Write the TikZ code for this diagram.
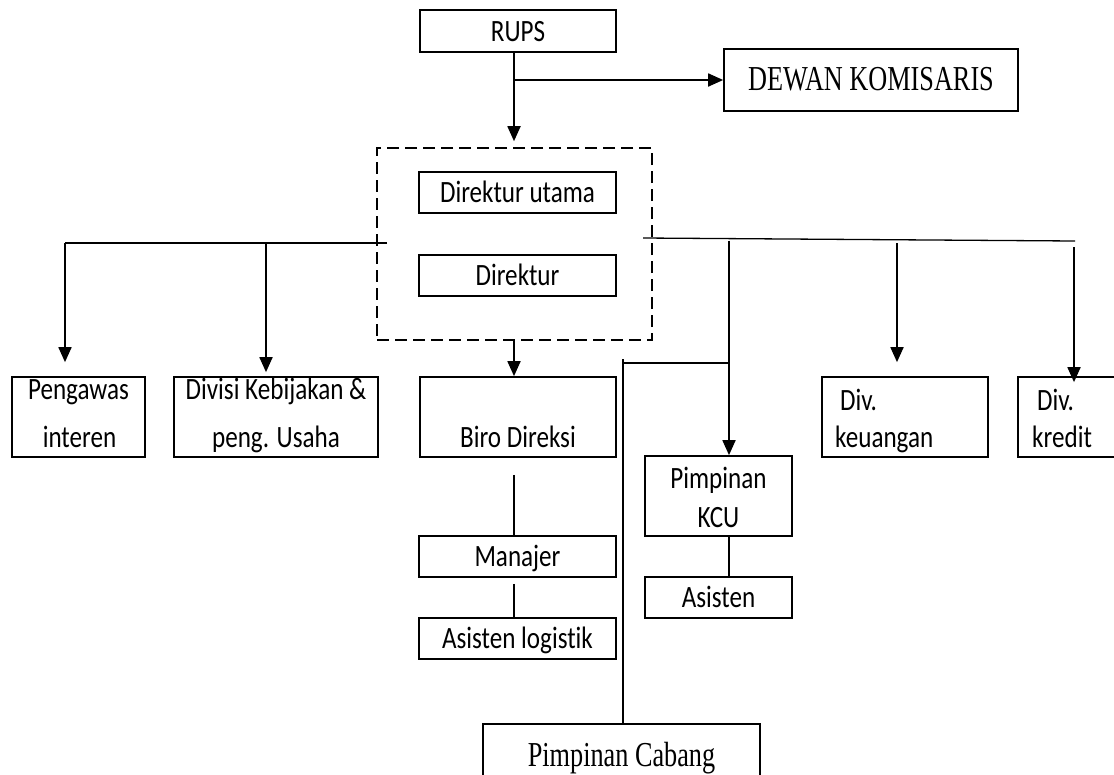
\documentclass[tikz,border=0pt]{standalone}
\usepackage{fontspec}
\setmainfont{Carlito}[FakeStretch=0.81, Ligatures=NoCommon]
\newfontfamily\tnr{Liberation Serif}[FakeStretch=0.75]
\usetikzlibrary{arrows.meta}
\begin{document}
\begin{tikzpicture}[x=1pt,y=-1pt,
  box/.style={draw, line width=1.7pt, inner sep=0pt, font=\fontsize{31}{36}\selectfont, text height=20pt, text depth=0pt},
  tbox/.style={box, font=\tnr\fontsize{35}{40}\selectfont, text height=21pt},
  lbl/.style={inner sep=0pt, font=\fontsize{31}{36}\selectfont},
  conn/.style={line width=1.8pt},
  thinconn/.style={line width=1.3pt},
  arr/.style={conn, -{Triangle[length=15pt,width=13pt]}},
  grp/.style={draw, line width=1.6pt, dash pattern=on 12pt off 6pt, inner sep=0pt}]
\useasboundingbox (0,0) rectangle (1114,774);
\clip (0,0) rectangle (1114,774);
\fill[white] (0,0) rectangle (1114,774);

% nodes
\node[box, minimum width=196pt, minimum height=42pt] (rups) at (518,31) {RUPS};
\node[tbox, minimum width=294pt, minimum height=62pt] (dewan) at (871,80) {DEWAN KOMISARIS};
\node[grp, minimum width=275pt, minimum height=192pt] (dir) at (514.5,244) {};
\node[box, minimum width=197pt, minimum height=41pt] (dirut) at (517.5,192.5) {Direktur utama};
\node[box, minimum width=197pt, minimum height=41pt] (direktur) at (517.5,275.5) {Direktur};

\node[box, minimum width=133pt, minimum height=80pt] (peng) at (78.5,417) {};
\node[lbl, anchor=base] (peng1) at (78.5,399) {Pengawas};
\node[lbl, anchor=base] (peng2) at (79.5,447) {interen};

\node[box, minimum width=204pt, minimum height=80pt] (divk) at (276,417) {};
\node[lbl, anchor=base] (divk1) at (276,399) {Divisi Kebijakan \&};
\node[lbl, anchor=base] (divk2) at (276,447) {peng. Usaha};

\node[box, minimum width=196pt, minimum height=80pt] (biro) at (518,417) {};
\node[lbl, anchor=base] (biro1) at (518,447) {Biro Direksi};

\node[box, minimum width=166pt, minimum height=80pt] (keu) at (905,417) {};
\node[lbl, anchor=base west] (keu1) at (840,410) {Div.};
\node[lbl, anchor=base west] (keu2) at (835,447) {keuangan};

\node[box, minimum width=130pt, minimum height=80pt] (kred) at (1083,417) {};
\node[lbl, anchor=base west] (kred1) at (1037,410) {Div.};
\node[lbl, anchor=base west] (kred2) at (1032,447) {kredit};

\node[box, minimum width=147pt, minimum height=80pt] (kcu) at (718.5,496) {};
\node[lbl, anchor=base] (kcu1) at (718.5,488) {Pimpinan};
\node[lbl, anchor=base] (kcu2) at (718.5,527) {KCU};
\node[box, minimum width=147pt, minimum height=41pt] (asis) at (718.5,597.5) {Asisten};

\node[box, minimum width=197pt, minimum height=41pt] (manajer) at (517.5,556.5) {Manajer};
\node[box, minimum width=197pt, minimum height=41pt] (aslog) at (517.5,638.5) {Asisten logistik};

\node[tbox, minimum width=277pt, minimum height=64pt] (cabang) at (621.5,756) {Pimpinan Cabang};

% connectors: top
\coordinate (j1) at (514,80);
\draw[arr, shorten >=6pt] (rups.south -| j1) -- (dir.north -| j1);
\draw[arr] (j1) -- (dewan.west);
\draw[arr] (dir.south -| j1) -- (biro.north -| j1);

% left bus
\coordinate (bl) at (387,243);
\coordinate (pl) at (65,243);
\coordinate (dl) at (266,243);
\draw[thinconn] (bl) -- (pl);
\draw[arr, shorten >=14pt] (pl) -- (pl |- peng.north);
\draw[arr, shorten >=4pt] (dl) -- (dl |- divk.north);

% right bus
\coordinate (br) at (643,238);
\coordinate (er) at (1075,241);
\draw[thinconn] (br) -- (er);
\coordinate (kj) at (729,240.5);
\draw[arr] (kj) -- (kj |- kcu.north);
\coordinate (cj) at (729,363);
\coordinate (cc) at (623,363);
\draw[thinconn] (cj) -- (cc);
\draw[conn] ([yshift=4pt]cc) -- (cc |- cabang.north);
\coordinate (kk) at (897,243);
\draw[arr, shorten >=14pt] (kk) -- (kk |- keu.north);
\coordinate (kr) at (1074,247);
\draw[arr, shorten >=-6pt] (kr) -- (kr |- kred.north);

% lower links
\draw[thinconn, shorten <=17pt] (biro.south -| j1) -- (manajer.north -| j1);
\draw[thinconn, shorten <=6pt] (manajer.south -| j1) -- (aslog.north -| j1);
\draw[thinconn] (kcu.south -| kj) -- (asis.north -| kj);
\end{tikzpicture}
\end{document}
